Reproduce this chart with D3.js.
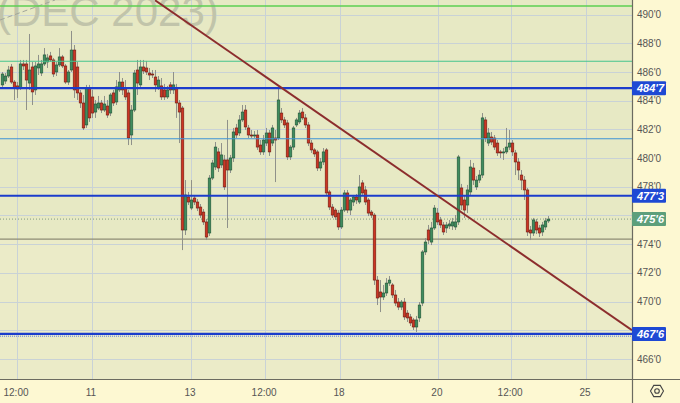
<!DOCTYPE html>
<html><head><meta charset="utf-8">
<script src="https://cdn.jsdelivr.net/npm/d3@7"></script>
<style>html,body{margin:0;padding:0;background:#fdf8d2;}svg{display:block}</style>
</head><body>
<svg id="c" width="680" height="403"></svg>
<script>
// ---- DATA ----
const opens = [485.10,485.37,485.72,486.35,485.30,485.03,484.89,486.56,486.56,485.23,486.35,484.75,486.28,485.93,486.56,486.70,487.12,486.84,486.00,486.49,487.05,486.42,485.30,486.14,487.53,486.35,484.54,483.84,482.31,484.89,484.26,483.21,483.49,483.84,483.35,483.63,483.14,484.54,483.91,484.75,485.30,484.89,484.54,481.61,483.35,486.14,485.10,486.35,486.28,485.93,485.86,485.65,484.89,485.03,484.75,484.26,485.10,484.75,484.89,483.84,483.49,474.99,477.29,476.52,477.22,476.94,476.59,476.24,475.55,474.78,478.61,479.38,480.43,479.52,479.87,479.87,479.17,480.01,482.10,481.75,482.66,483.35,482.10,481.61,481.54,481.61,480.91,480.43,481.05,481.75,481.05,481.40,481.40,483.14,482.66,482.45,480.08,480.77,482.31,482.52,483.21,482.80,482.31,481.05,480.57,480.43,479.31,479.73,480.57,477.64,476.59,476.38,476.17,475.20,476.38,477.57,476.38,476.94,477.29,476.94,478.27,477.78,477.08,476.24,476.03,471.50,470.67,470.32,470.60,471.29,471.16,470.46,469.97,469.62,469.97,469.20,468.93,468.72,468.23,468.86,469.90,473.46,474.99,474.15,475.13,476.17,475.69,475.34,475.13,475.27,475.27,475.20,475.55,477.92,477.08,476.73,477.64,479.31,477.99,478.47,478.82,482.66,481.05,481.47,481.40,481.05,480.43,480.36,480.43,480.77,481.05,480.36,479.73,478.82,478.47,477.78,474.99,474.78,475.55,475.13,474.85,475.20,475.62];
const highs = [486.00,485.93,486.42,486.56,485.44,485.30,486.84,486.84,486.84,488.65,486.70,486.70,487.19,486.84,487.67,487.26,487.40,486.98,486.70,487.67,487.19,486.56,486.14,488.86,487.88,486.70,484.75,484.40,485.10,485.10,484.75,484.05,484.33,484.05,484.33,484.05,484.54,484.75,485.44,486.00,485.58,485.44,484.75,483.70,486.14,486.84,486.84,486.84,486.77,486.28,486.14,486.14,485.72,485.58,485.17,485.03,485.30,486.00,485.17,484.05,483.63,478.47,477.64,478.47,477.43,477.15,476.80,476.45,475.76,478.82,479.87,481.12,480.70,481.05,480.22,482.66,480.22,482.10,482.38,483.00,483.70,483.70,482.31,481.96,481.89,481.96,481.26,481.61,482.10,481.96,482.31,481.96,484.89,483.49,482.87,482.66,480.91,482.24,482.80,483.35,483.49,483.07,482.52,481.26,480.70,480.57,480.01,480.70,480.70,477.78,476.80,476.52,476.38,476.59,477.78,477.78,477.22,477.43,477.50,478.82,478.47,478.06,477.22,476.38,476.17,471.78,471.50,471.16,471.64,471.78,471.29,470.81,470.25,470.11,470.25,469.41,469.14,468.86,469.00,469.97,473.59,474.43,475.34,475.55,476.73,476.52,475.90,475.55,475.55,475.69,475.83,476.03,480.22,478.20,477.43,478.13,479.87,479.66,478.75,479.17,483.14,482.87,482.10,481.82,481.61,481.26,480.57,480.70,482.10,481.96,481.26,480.57,480.01,479.17,478.75,477.92,475.27,475.83,475.76,475.34,475.55,475.83,475.96];
const lows = [484.96,485.17,485.58,485.17,484.05,484.19,484.75,486.14,483.35,484.75,483.70,484.40,485.79,485.72,486.42,486.28,486.70,485.65,485.72,486.35,486.28,485.17,485.10,486.00,484.19,484.05,483.49,481.96,482.10,482.52,482.80,482.80,483.35,483.14,483.21,482.80,482.93,483.63,483.70,484.61,484.40,484.05,480.91,480.91,483.21,484.40,484.89,485.86,485.79,485.44,485.58,484.61,484.75,484.05,484.05,484.12,484.47,484.47,482.80,481.05,473.59,474.64,476.73,476.38,476.73,476.31,475.83,475.34,474.29,474.57,478.47,479.17,479.03,479.31,477.78,475.13,478.96,479.73,481.40,481.54,482.52,481.96,481.40,481.40,481.40,480.57,480.22,480.22,480.84,480.15,480.84,478.33,481.26,482.45,482.10,479.87,479.87,480.57,482.17,482.38,482.66,482.10,480.84,480.36,480.08,479.10,479.10,479.52,477.36,476.38,475.83,475.69,474.99,475.06,476.24,476.17,476.03,476.66,476.80,476.80,477.36,476.73,475.96,475.83,471.16,469.76,469.27,470.11,470.39,471.09,470.25,469.69,469.41,469.41,468.72,468.58,468.30,468.02,467.88,468.58,469.69,473.25,474.01,473.94,474.99,475.34,475.13,474.64,474.78,475.06,474.99,474.99,475.34,476.38,475.83,476.17,477.43,478.13,477.78,478.27,478.61,481.12,480.84,480.91,480.57,480.15,480.01,479.87,480.29,480.57,480.15,478.82,478.47,477.78,477.08,474.57,474.29,474.57,474.71,474.50,474.57,474.99,475.48];
const closes = [485.86,485.72,486.14,485.30,484.89,484.82,486.56,486.42,485.44,486.14,484.61,486.42,486.56,486.56,487.19,486.98,486.84,485.86,486.49,487.05,486.42,485.30,486.00,487.53,484.75,484.54,483.84,482.10,484.89,482.80,483.14,483.77,483.84,483.35,483.77,483.00,484.40,483.84,484.96,485.30,484.75,484.26,481.40,483.35,485.93,485.23,486.35,486.07,486.00,485.79,485.80,485.10,485.44,484.26,484.26,484.75,484.75,485.10,483.84,483.21,474.99,477.43,476.94,477.08,476.94,476.52,476.03,475.55,474.50,478.61,479.66,480.77,479.31,480.22,477.99,479.17,480.01,481.82,481.61,482.66,483.21,482.17,481.61,481.54,481.61,480.77,480.43,481.26,481.75,480.43,482.10,481.26,484.05,482.66,482.31,480.08,480.77,482.10,482.66,483.14,482.80,482.31,481.05,480.57,480.29,479.31,479.73,480.43,477.57,476.59,476.03,475.90,475.20,476.38,477.57,476.38,477.08,477.29,477.08,477.99,477.57,476.94,476.17,476.03,471.50,470.25,470.32,470.60,471.29,471.50,470.46,469.90,469.62,469.97,468.93,468.86,468.51,468.23,468.72,469.76,473.46,474.15,474.29,475.13,476.52,475.55,475.34,474.85,475.34,475.41,475.55,475.55,480.08,476.73,476.38,477.78,479.38,478.47,478.47,478.82,482.80,481.40,481.75,481.12,480.77,480.36,480.36,480.43,480.77,481.05,480.43,479.73,479.17,478.47,477.78,474.85,474.78,475.69,474.99,474.78,475.34,475.62,475.75];

const gridTicks = [466,468,470,472,474,476,478,480,482,484,486,488,490];
const yTickLabels = [466,470,472,474,478,480,482,484,486,488,490];
const xTickIdx = [5, 30, 63, 87.7, 112.7, 145.3, 169.7, 194.7];
const xTickLabels = ["12:00","11","13","12:00","18","20","12:00","25"];

const blueLevels = [484.875, 477.375, 467.75];
const greenLevels = [490.6, 486.75];
const thinBlueLevel = 481.35;
const greyLevel = 474.35;
const lastPrice = 475.75;
const trendIdx = [51, 210];
const trendPrice = [491.0, 468.0];
const watermark = "(DEC 2023)";

// ---- LAYOUT ----
const plotW = 632, plotH = 379;
const svg = d3.select("#c");
const x = d3.scaleLinear().domain([0, closes.length - 1]).range([2, 548]);
const y = d3.scaleLinear().domain([466, 490]).range([359, 14.6]);
const fmt = p => { const i = Math.floor(p + 1e-9); return i + "'" + Math.round((p - i) * 8); };
const font = "'Liberation Sans', Arial, sans-serif";

svg.append("rect").attr("width", 680).attr("height", 403).attr("fill", "#fdf8d2");
svg.append("defs").append("clipPath").attr("id", "pc")
  .append("rect").attr("width", plotW).attr("height", plotH);
const plot = svg.append("g").attr("clip-path", "url(#pc)");
plot.append("rect").attr("width", plotW).attr("height", plotH).attr("fill", "#e7e9c4");
plot.append("rect").attr("y", y(greyLevel)).attr("width", plotW).attr("height", plotH - y(greyLevel)).attr("fill", "#ebebc8");

// grid
plot.selectAll(".hg").data(gridTicks).join("line")
  .attr("x1", 0).attr("x2", plotW).attr("y1", d => Math.round(y(d)) + 0.5).attr("y2", d => Math.round(y(d)) + 0.5)
  .attr("stroke", "#c9d2d6").attr("stroke-width", 1);
plot.selectAll(".vg").data(xTickIdx).join("line")
  .attr("y1", 0).attr("y2", plotH).attr("x1", d => Math.round(x(d)) + 0.5).attr("x2", d => Math.round(x(d)) + 0.5)
  .attr("stroke", "#c9d2d6").attr("stroke-width", 1);

// watermark (partly above the top edge, as in the reference)
plot.append("text").attr("x", -3).attr("y", 26).text(watermark)
  .attr("font-family", font).attr("font-size", 42).attr("fill", "#c1c4aa");
plot.append("line").attr("x1", 0).attr("y1", 20).attr("x2", 55).attr("y2", 0)
  .attr("stroke", "#a3a69a").attr("stroke-width", 1).attr("stroke-dasharray", "5,3");

// level lines
plot.append("line").attr("x1", 0).attr("x2", plotW).attr("y1", y(greyLevel)).attr("y2", y(greyLevel))
  .attr("stroke", "#8e8c74").attr("stroke-width", 1.2);
plot.append("line").attr("x1", 0).attr("x2", plotW).attr("y1", y(lastPrice)).attr("y2", y(lastPrice))
  .attr("stroke", "#7e9c80").attr("stroke-width", 1).attr("stroke-dasharray", "1,2");

// candles
const idx = d3.range(closes.length);
const cg = plot.append("g");
cg.selectAll(".w").data(idx).join("line")
  .attr("x1", i => x(i) + 0.5).attr("x2", i => x(i) + 0.5)
  .attr("y1", i => y(Math.max(highs[i], opens[i], closes[i])))
  .attr("y2", i => y(Math.min(lows[i], opens[i], closes[i])))
  .attr("stroke", "#8f918a").attr("stroke-width", 1);
cg.selectAll(".b").data(idx).join("rect")
  .attr("x", i => x(i) - 0.8).attr("width", 2.6)
  .attr("y", i => y(Math.max(opens[i], closes[i])))
  .attr("height", i => Math.max(1, Math.abs(y(opens[i]) - y(closes[i]))))
  .attr("fill", i => closes[i] >= opens[i] ? "#3f8c5e" : "#cc3524")
  .attr("stroke", i => closes[i] >= opens[i] ? "#1f5235" : "#6e1a10")
  .attr("stroke-width", 0.6);

plot.selectAll(".gl").data(greenLevels).join("line")
  .attr("x1", 0).attr("x2", plotW).attr("y1", d => y(d)).attr("y2", d => y(d))
  .attr("stroke", (d, i) => i === 0 ? "#5ccf52" : "#46c48e").attr("stroke-width", (d, i) => i === 0 ? 1.6 : 1.2);
plot.append("line").attr("x1", 0).attr("x2", plotW).attr("y1", y(thinBlueLevel)).attr("y2", y(thinBlueLevel))
  .attr("stroke", "#3f93d6").attr("stroke-width", 1.1);
plot.selectAll(".bl").data(blueLevels).join("line")
  .attr("x1", 0).attr("x2", plotW).attr("y1", d => y(d)).attr("y2", d => y(d))
  .attr("stroke", "#1b3ccc").attr("stroke-width", 2.2);
plot.append("line").attr("x1", 0).attr("x2", plotW).attr("y1", y(blueLevels[2]) + 2.3).attr("y2", y(blueLevels[2]) + 2.3)
  .attr("stroke", "#5c78dd").attr("stroke-width", 1).attr("stroke-dasharray", "1,1");

// trend line
plot.append("line")
  .attr("x1", x(trendIdx[0])).attr("y1", y(trendPrice[0]))
  .attr("x2", x(trendIdx[1])).attr("y2", y(trendPrice[1]))
  .attr("stroke", "#8c2d2d").attr("stroke-width", 2);

// borders
svg.append("line").attr("x1", plotW + 0.5).attr("x2", plotW + 0.5).attr("y1", 0).attr("y2", 403)
  .attr("stroke", "#6b6b60").attr("stroke-width", 1.2);
svg.append("line").attr("x1", 0).attr("x2", 680).attr("y1", plotH + 0.5).attr("y2", plotH + 0.5)
  .attr("stroke", "#6b6b60").attr("stroke-width", 1.2);

// y labels
svg.selectAll(".yl").data(yTickLabels).join("text")
  .attr("x", 637).attr("y", d => y(d)).attr("dy", "0.35em")
  .text(d => fmt(d)).attr("font-family", font).attr("font-size", 10).attr("fill", "#555");

// boxes
const boxes = blueLevels.map(p => ({p, c: "#1e49d4"})).concat([{p: lastPrice, c: "#5d9f7b"}]);
const bg = svg.selectAll(".bx").data(boxes).join("g").attr("transform", d => `translate(632,${y(d.p)})`);
bg.append("rect").attr("x", 0).attr("y", -7).attr("width", 34).attr("height", 14).attr("fill", d => d.c).attr("rx", 1);
bg.append("text").attr("x", 5).attr("dy", "0.36em").text(d => fmt(d.p))
  .attr("font-family", font).attr("font-size", 11).attr("font-style", "italic").attr("font-weight", "bold").attr("fill", "#fff");

// x labels
svg.selectAll(".xl").data(xTickIdx).join("text")
  .attr("x", d => x(d) - 1).attr("y", 396).attr("text-anchor", "middle")
  .text((d, i) => xTickLabels[i]).attr("font-family", font).attr("font-size", 10).attr("fill", "#555");

// settings icon
const hex = d3.range(6).map(k => [657 + 6.5 * Math.cos(Math.PI / 3 * k), 391 + 6.5 * Math.sin(Math.PI / 3 * k)]);
svg.append("path").attr("d", "M" + hex.join("L") + "Z").attr("fill", "none").attr("stroke", "#444").attr("stroke-width", 1.1);
svg.append("circle").attr("cx", 657).attr("cy", 391).attr("r", 2.3).attr("fill", "none").attr("stroke", "#444").attr("stroke-width", 1.1);
</script>
</body></html>
